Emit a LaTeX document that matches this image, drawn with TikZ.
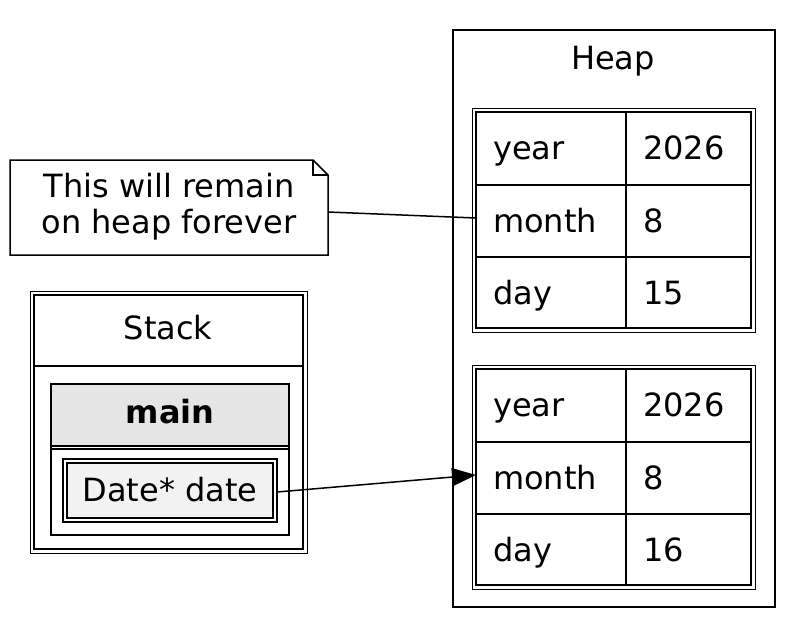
\documentclass[tikz,border=0pt]{standalone}
\usepackage{fontspec}
\setmainfont{DejaVu Sans}
\usetikzlibrary{positioning,shapes.misc,arrows.meta}

\tikzset{
  txt/.style={font=\fontsize{32}{38}\selectfont, inner sep=0pt, anchor=base},
  lw/.style={line width=1.5pt}
}
\newcommand{\memtable}[3]{% name, top y, day value
  \draw[line width=1pt] (472,#2) rectangle (755,#2+224);
  \draw[lw] (476,#2+4) rectangle (751,#2+220);
  \draw[lw] (476,#2+77) -- (751,#2+77);
  \draw[lw] (476,#2+149) -- (751,#2+149);
  \draw[lw] (626,#2+4) -- (626,#2+220);
  \node[txt, anchor=base west] (#1y) at (493,#2+51) {year};
  \node[txt, anchor=base west] (#1yv) at (643,#2+51) {2026};
  \node[txt, anchor=base west] (#1m) at (493,#2+124) {month};
  \node[txt, anchor=base west] (#1mv) at (643,#2+124) {8};
  \node[txt, anchor=base west] (#1d) at (493,#2+196) {day};
  \node[txt, anchor=base west] (#1dv) at (643,#2+196) {#3};
  \coordinate (#1port) at (476,#2+110);
}

\begin{document}
\begin{tikzpicture}[x=1pt,y=-1pt]
  \useasboundingbox (0,0) rectangle (805,638);
  % heap cluster
  \draw[lw] (453,30) rectangle (775,607);
  \node[txt] (heap) at (613,69) {Heap};
  \memtable{old}{108}{15}
  \memtable{new}{365}{16}
  % note
  \draw[lw] (10,160) -- (313,160) -- (328,175) -- (328,255) -- (10,255) -- cycle;
  \draw[lw] (313,160) -- (313,175) -- (328,175);
  \node[txt] (note1) at (169,197) {This will remain};
  \node[txt] (note2) at (169,233) {on heap forever};
  \coordinate (noteport) at (328,212);
  \draw[lw] (noteport) -- (oldport);
  % stack
  \draw[line width=1pt] (30,291) rectangle (307,553);
  \draw[lw] (34,295) rectangle (303,549);
  \draw[lw] (34,366) -- (303,366);
  \node[txt] (stack) at (168,339) {Stack};
  \draw[lw] (51,384) rectangle (289,535);
  \draw[lw, fill=black!10] (51,384) rectangle (289,446);
  \draw[lw] (51,449) -- (289,449);
  \node[txt, font=\fontsize{32}{38}\selectfont\bfseries] (main) at (170,423) {main};
  \draw[lw] (63,459) rectangle (277,522);
  \draw[lw, fill=black!5] (67,463) rectangle (273,518);
  \node[txt] (date) at (170,501) {Date* date};
  \coordinate (dateport) at (277,492);
  \draw[lw, -{Triangle[length=24pt,width=18pt]}] (dateport) -- (newport);
\end{tikzpicture}
\end{document}
